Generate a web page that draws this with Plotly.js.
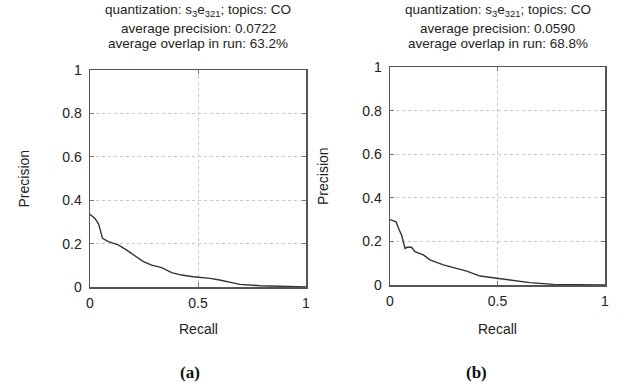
<!DOCTYPE html>
<html>
<head>
<meta charset="utf-8">
<script src="https://cdn.plot.ly/plotly-3.0.1.min.js"></script>
<style>html,body{margin:0;padding:0;background:#fff;}#chart{width:624px;height:389px;}</style>
</head>
<body>
<div id="chart"></div>
<script>
// Panel (a)
const recallA = [0.0, 0.003, 0.023, 0.04, 0.058, 0.085, 0.131, 0.17, 0.208, 0.247, 0.286, 0.332, 0.378, 0.424, 0.478, 0.556, 0.60, 0.648, 0.694, 0.787, 0.94, 1.0];
const precisionA = [0.335, 0.332, 0.316, 0.29, 0.224, 0.209, 0.194, 0.17, 0.143, 0.117, 0.101, 0.089, 0.066, 0.055, 0.047, 0.040, 0.032, 0.02, 0.012, 0.006, 0.001, 0.0];
// Panel (b)
const recallB = [0.0, 0.008, 0.028, 0.043, 0.054, 0.07, 0.08, 0.10, 0.116, 0.155, 0.186, 0.248, 0.295, 0.357, 0.419, 0.496, 0.574, 0.651, 0.76, 0.9, 1.0];
const precisionB = [0.30, 0.298, 0.29, 0.252, 0.229, 0.168, 0.173, 0.173, 0.153, 0.138, 0.115, 0.092, 0.081, 0.064, 0.041, 0.031, 0.020, 0.011, 0.003, 0.001, 0.0];

const xTicks = [0, 0.5, 1];
const xTickText = ['0', '0.5', '1'];
const yTicks = [0, 0.2, 0.4, 0.6, 0.8, 1];
const yTickText = ['0', '0.2', '0.4', '0.6', '0.8', '1'];

const titlesA = ['quantization: s<sub>3</sub>e<sub>321</sub>; topics: CO', 'average precision: 0.0722', 'average overlap in run: 63.2%'];
const titlesB = ['quantization: s<sub>3</sub>e<sub>321</sub>; topics: CO', 'average precision: 0.0590', 'average overlap in run: 68.8%'];
const panelLabels = ['(a)', '(b)'];
const xTitle = 'Recall';
const yTitle = 'Precision';

const W = 624, H = 389;
const SANS = "'Liberation Sans', Arial, Helvetica, sans-serif";
const SERIF = "'Liberation Serif', 'Times New Roman', serif";
const font = {family: SANS, size: 14, color: '#222'};

function xax(domain) {
  return {
    domain: domain, range: [0, 1], tickvals: xTicks, ticktext: xTickText,
    showgrid: true, gridcolor: '#c8c8c8', griddash: 'dot', gridwidth: 1,
    showline: true, mirror: 'allticks', linecolor: '#555', linewidth: 1.5,
    ticks: 'inside', ticklen: 4, tickcolor: '#777', zeroline: false,
    tickfont: font, fixedrange: true, automargin: false, ticklabelstandoff: 3
  };
}
function yax(domain, anchor) {
  return {
    domain: domain, range: [0, 1], tickvals: yTicks, ticktext: yTickText,
    showgrid: true, gridcolor: '#c8c8c8', griddash: 'dot', gridwidth: 1,
    showline: true, mirror: 'allticks', linecolor: '#555', linewidth: 1.5,
    ticks: 'inside', ticklen: 4, tickcolor: '#777', zeroline: false,
    tickfont: font, fixedrange: true, automargin: false, anchor: anchor, ticklabelstandoff: 4
  };
}

const aL = 90, aR = 306, aT = 70, aB = 287;
const bL = 390, bR = 605, bT = 67, bB = 285;

const traces = [
  {x: recallA, y: precisionA, type: 'scatter', mode: 'lines', line: {color: '#333', width: 1.4}, xaxis: 'x', yaxis: 'y', hoverinfo: 'skip'},
  {x: recallB, y: precisionB, type: 'scatter', mode: 'lines', line: {color: '#333', width: 1.4}, xaxis: 'x2', yaxis: 'y2', hoverinfo: 'skip'}
];

const titleY = [10, 28, 43.5];
const ann = [];
function addPanel(titles, L, R, T, B, lab, labX) {
  const cx = (L + R) / 2 / W;
  titles.forEach((t, i) => {
    ann.push({text: t, x: cx, y: 1 - titleY[i] / H, xref: 'paper', yref: 'paper', xanchor: 'center', yanchor: 'middle', showarrow: false, font: {family: SANS, size: 13.5, color: '#222'}});
  });
  ann.push({text: xTitle, x: cx, y: 1 - 329 / H, xref: 'paper', yref: 'paper', xanchor: 'center', yanchor: 'middle', showarrow: false, font: font});
  ann.push({text: yTitle, x: (L - 67) / W, y: 1 - ((T + B) / 2) / H, xref: 'paper', yref: 'paper', xanchor: 'center', yanchor: 'middle', textangle: -90, showarrow: false, font: font});
  ann.push({text: '<b>' + lab + '</b>', x: labX / W, y: 1 - 372 / H, xref: 'paper', yref: 'paper', xanchor: 'center', yanchor: 'middle', showarrow: false, font: {family: SERIF, size: 17, color: '#111'}});
}
addPanel(titlesA, aL, aR, aT, aB, panelLabels[0], 190);
addPanel(titlesB, bL, bR, bT, bB, panelLabels[1], 477);

const layout = {
  width: W, height: H, margin: {l: 0, r: 0, t: 0, b: 0},
  paper_bgcolor: '#fff', plot_bgcolor: '#fff', showlegend: false,
  xaxis: xax([aL / W, aR / W]),
  yaxis: yax([1 - aB / H, 1 - aT / H], 'x'),
  xaxis2: xax([bL / W, bR / W]),
  yaxis2: yax([1 - bB / H, 1 - bT / H], 'x2'),
  annotations: ann, font: font
};
layout.xaxis.anchor = 'y';
layout.xaxis2.anchor = 'y2';

Plotly.newPlot('chart', traces, layout, {displayModeBar: false, staticPlot: true});
</script>
</body>
</html>
